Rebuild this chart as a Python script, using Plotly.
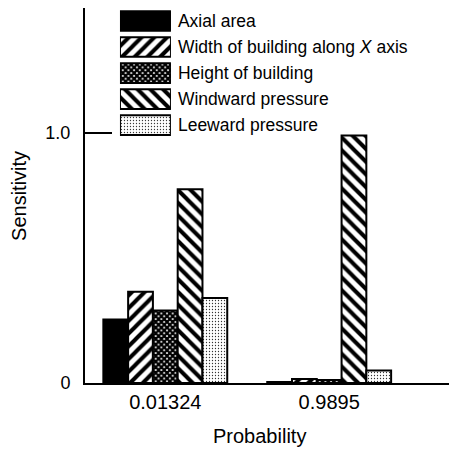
import plotly.graph_objects as go

categories = ["0.01324", "0.9895"]
series_names = ["Axial area", "Width of building along <i>X</i> axis", "Height of building",
                "Windward pressure", "Leeward pressure"]
axial_area = [0.254, 0.004]
width_x = [0.365, 0.016]
height_bldg = [0.29, 0.012]
windward = [0.775, 0.99]
leeward = [0.34, 0.05]
y_tick_vals = [0, 1.0]
y_tick_text = ["0", "1.0"]

series_values = [axial_area, width_x, height_bldg, windward, leeward]
styles = [
    dict(color="black", shape="", size=8, solidity=0.3, fg="black", bg="black"),
    dict(color="white", shape="/", size=9, solidity=0.45, fg="black", bg="white"),
    dict(color="white", shape="x", size=4, solidity=0.8, fg="black", bg="white"),
    dict(color="white", shape="\\", size=9, solidity=0.45, fg="black", bg="white"),
    dict(color="white", shape=".", size=3, solidity=0.15, fg="#333333", bg="white"),
]

FONT = "Liberation Sans, Arial, sans-serif"


def marker(st):
    return dict(color=st["color"], line=dict(color="black", width=2),
                pattern=dict(shape=st["shape"], size=st["size"], solidity=st["solidity"],
                             fgcolor=st["fg"], bgcolor=st["bg"], fgopacity=1, fillmode="replace"))


fig = go.Figure()
for name, vals, st in zip(series_names, series_values, styles):
    fig.add_trace(go.Bar(x=categories, y=vals, name=name, showlegend=False, marker=marker(st)))

# custom legend: one swatch bar per series on an inset axis
for name, st in zip(series_names, styles):
    fig.add_trace(go.Bar(x=[1], y=[name], orientation="h", xaxis="x2", yaxis="y2",
                         offsetgroup="legend", showlegend=False, hoverinfo="skip", marker=marker(st)))

fig.update_layout(
    width=449, height=445,
    margin=dict(l=77, r=0, t=0, b=70),
    paper_bgcolor="white", plot_bgcolor="white",
    barmode="group", bargap=0.244, bargroupgap=0,
    font=dict(family=FONT, color="black", size=17),
    xaxis=dict(type="category", range=[-0.49, 1.78], showline=True, linewidth=2, linecolor="black",
               ticks="", showgrid=False, zeroline=False, tickfont=dict(size=20), automargin=False),
    yaxis=dict(range=[0, 1.5], tickvals=y_tick_vals, ticktext=y_tick_text, showline=True, linewidth=2,
               linecolor="black", ticks="inside", ticklen=27, tickwidth=2, tickcolor="black",
               showgrid=False, zeroline=False, tickfont=dict(size=18), ticklabelstandoff=9,
               automargin=False),
    xaxis2=dict(domain=[0.094, 0.231], range=[0, 1], visible=False, anchor="y2", fixedrange=True),
    yaxis2=dict(domain=[0.653, 1.0], anchor="x2", side="right", type="category",
                categoryorder="array", categoryarray=series_names,
                autorange="reversed", showline=False, ticks="", showgrid=False, zeroline=False,
                tickfont=dict(size=17.5), ticklabelstandoff=6, automargin=False),
    annotations=[
        dict(text="Probability", xref="paper", yref="paper", x=0.469, y=-0.141,
             xanchor="center", yanchor="middle", showarrow=False, font=dict(size=20)),
        dict(text="Sensitivity", xref="paper", yref="paper", x=-0.179, y=0.5, textangle=-90,
             xanchor="center", yanchor="middle", showarrow=False, font=dict(size=20)),
    ],
)

fig.write_html("out.html")
